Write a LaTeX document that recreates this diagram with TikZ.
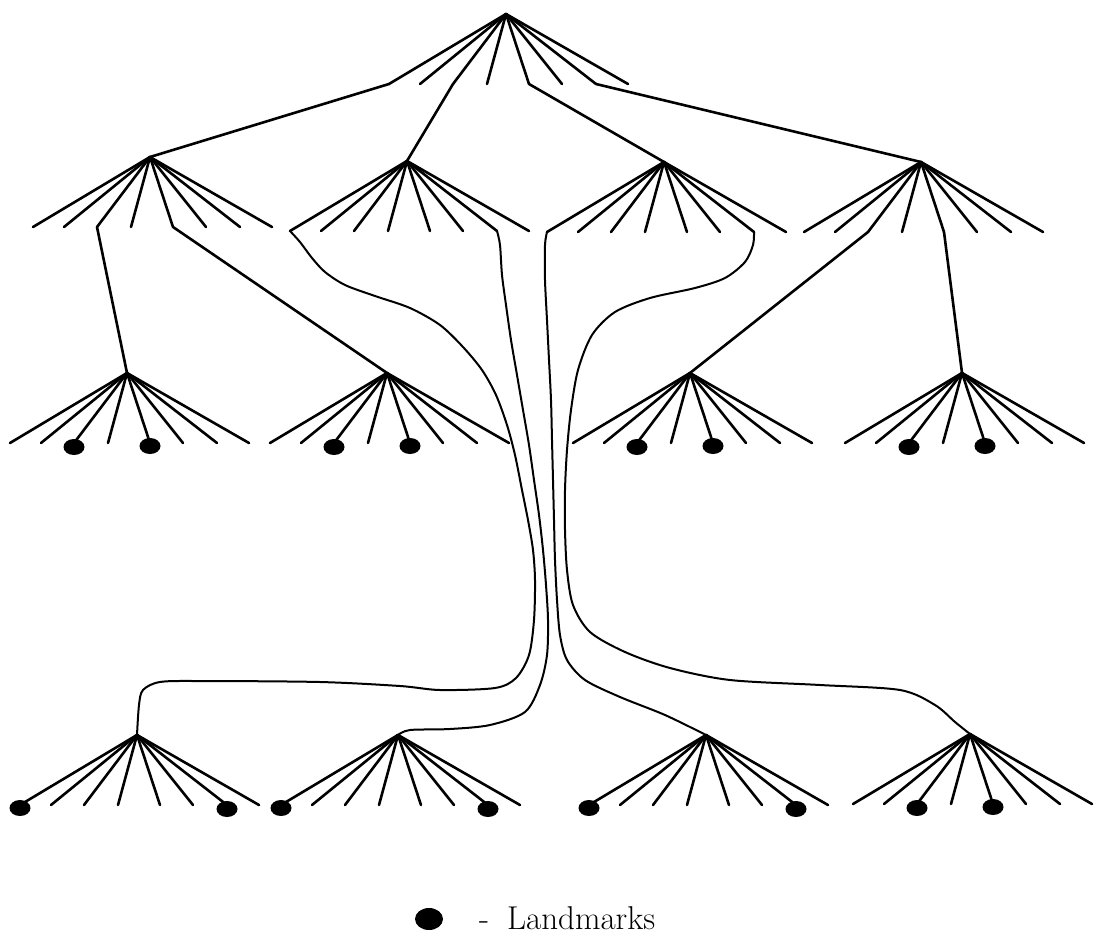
\documentclass[tikz,border=0pt]{standalone}
\usetikzlibrary{calc,shapes.geometric}
\newcommand{\fanat}[3]{%
  \coordinate (#1) at (#2,#3);
  \foreach \i/\dx in {1/-117,2/-86,3/-53,4/-19,5/23,6/56,7/90,8/122}{%
    \coordinate (#1-\i) at ($(#1)+(\dx,70)$);
    \draw[ray] (#1) -- (#1-\i);
  }%
}
\begin{document}
\begin{tikzpicture}[x=1pt,y=-1pt,
  ray/.style={line width=2.6pt,line cap=round,line join=round},
  link/.style={line width=2.6pt,line cap=round,line join=round},
  wavy/.style={line width=2pt,line cap=round,line join=round},
  lm/.style={ellipse,fill=black,inner sep=0pt,minimum width=21pt,minimum height=16pt}]
\useasboundingbox (0,0) rectangle (1102,950);

% fans
\fanat{top}{506}{14}
\fanat{m1}{150}{157}
\fanat{m2}{407}{161}
\fanat{m3}{664}{162}
\fanat{m4}{921}{162}
\fanat{n1}{127}{373}
\fanat{n2}{387}{373}
\fanat{n3}{690}{373}
\fanat{n4}{962}{373}
\fanat{b1}{137}{735}
\fanat{b2}{398}{735}
\fanat{b3}{706}{735}
\fanat{b4}{970}{734}

% tree links
\draw[link] (top-1) -- (m1);
\draw[link] (top-3) -- (m2);
\draw[link] (top-5) -- (m3);
\draw[link] (top-7) -- (m4);
\draw[link] (m1-3) -- (n1);
\draw[link] (m1-5) -- (n2);
\draw[link] (m4-3) -- (n3);
\draw[link] (m4-5) -- (n4);

% paths
\draw[wavy] plot[smooth,tension=0.5] coordinates {(m2-1) (300,242) (312,258) (325,272) (345,285) (375,296) (410,308) (440,325) (463,347) (482,370) (496,395) (507,425) (515,455) (522,490) (528,520) (533,550) (535,580) (534,620) (529,655) (516,678) (495,688) (440,690) (400,686) (320,682) (200,681) (160,682) (143,690) (139,705) (b1)};
\draw[wavy] plot[smooth,tension=0.5] coordinates {(m2-7) (500,245) (502,275) (506,305) (511,340) (517,375) (523,410) (529,445) (534,480) (539,515) (543,550) (546,585) (548,620) (547,655) (540,685) (525,712) (490,725) (450,729) (410,730) (b2)};
\draw[wavy] plot[smooth,tension=0.5] coordinates {(m3-1) (545,245) (545,280) (547,320) (549,360) (551,400) (552,440) (553,480) (554,520) (555,560) (557,600) (560,635) (567,660) (585,680) (620,697) (665,715) (b3)};
\draw[wavy] plot[smooth,tension=0.5] coordinates {(m3-7) (753,245) (745,262) (725,278) (695,288) (650,298) (615,312) (592,335) (578,370) (571,410) (567,450) (565,490) (565,530) (567,570) (573,605) (590,632) (625,652) (670,668) (730,680) (820,685) (900,690) (935,705) (955,722) (b4)};

% landmarks
\foreach \n in {n1,n2,n3,n4}{
  \node[lm] (\n-l3) at ($(\n-3)+(0,4)$) {};
  \node[lm] (\n-l5) at ($(\n-5)+(0,3)$) {};
}
\foreach \n in {b1,b2,b3}{
  \node[lm] (\n-l1) at ($(\n-1)+(0,3)$) {};
  \node[lm] (\n-l7) at ($(\n-7)+(0,4)$) {};
}
\node[lm] (b4-l3) at ($(b4-3)+(0,4)$) {};
\node[lm] (b4-l5) at ($(b4-5)+(0,3)$) {};

% legend
\node[lm,minimum width=28pt,minimum height=22pt] (key) at (429,919) {};
\node[anchor=base west,inner sep=0pt,font=\fontsize{33}{40}\selectfont] (keytext) at (479,929) {-\hspace{18pt}Landmarks};
\end{tikzpicture}
\end{document}
